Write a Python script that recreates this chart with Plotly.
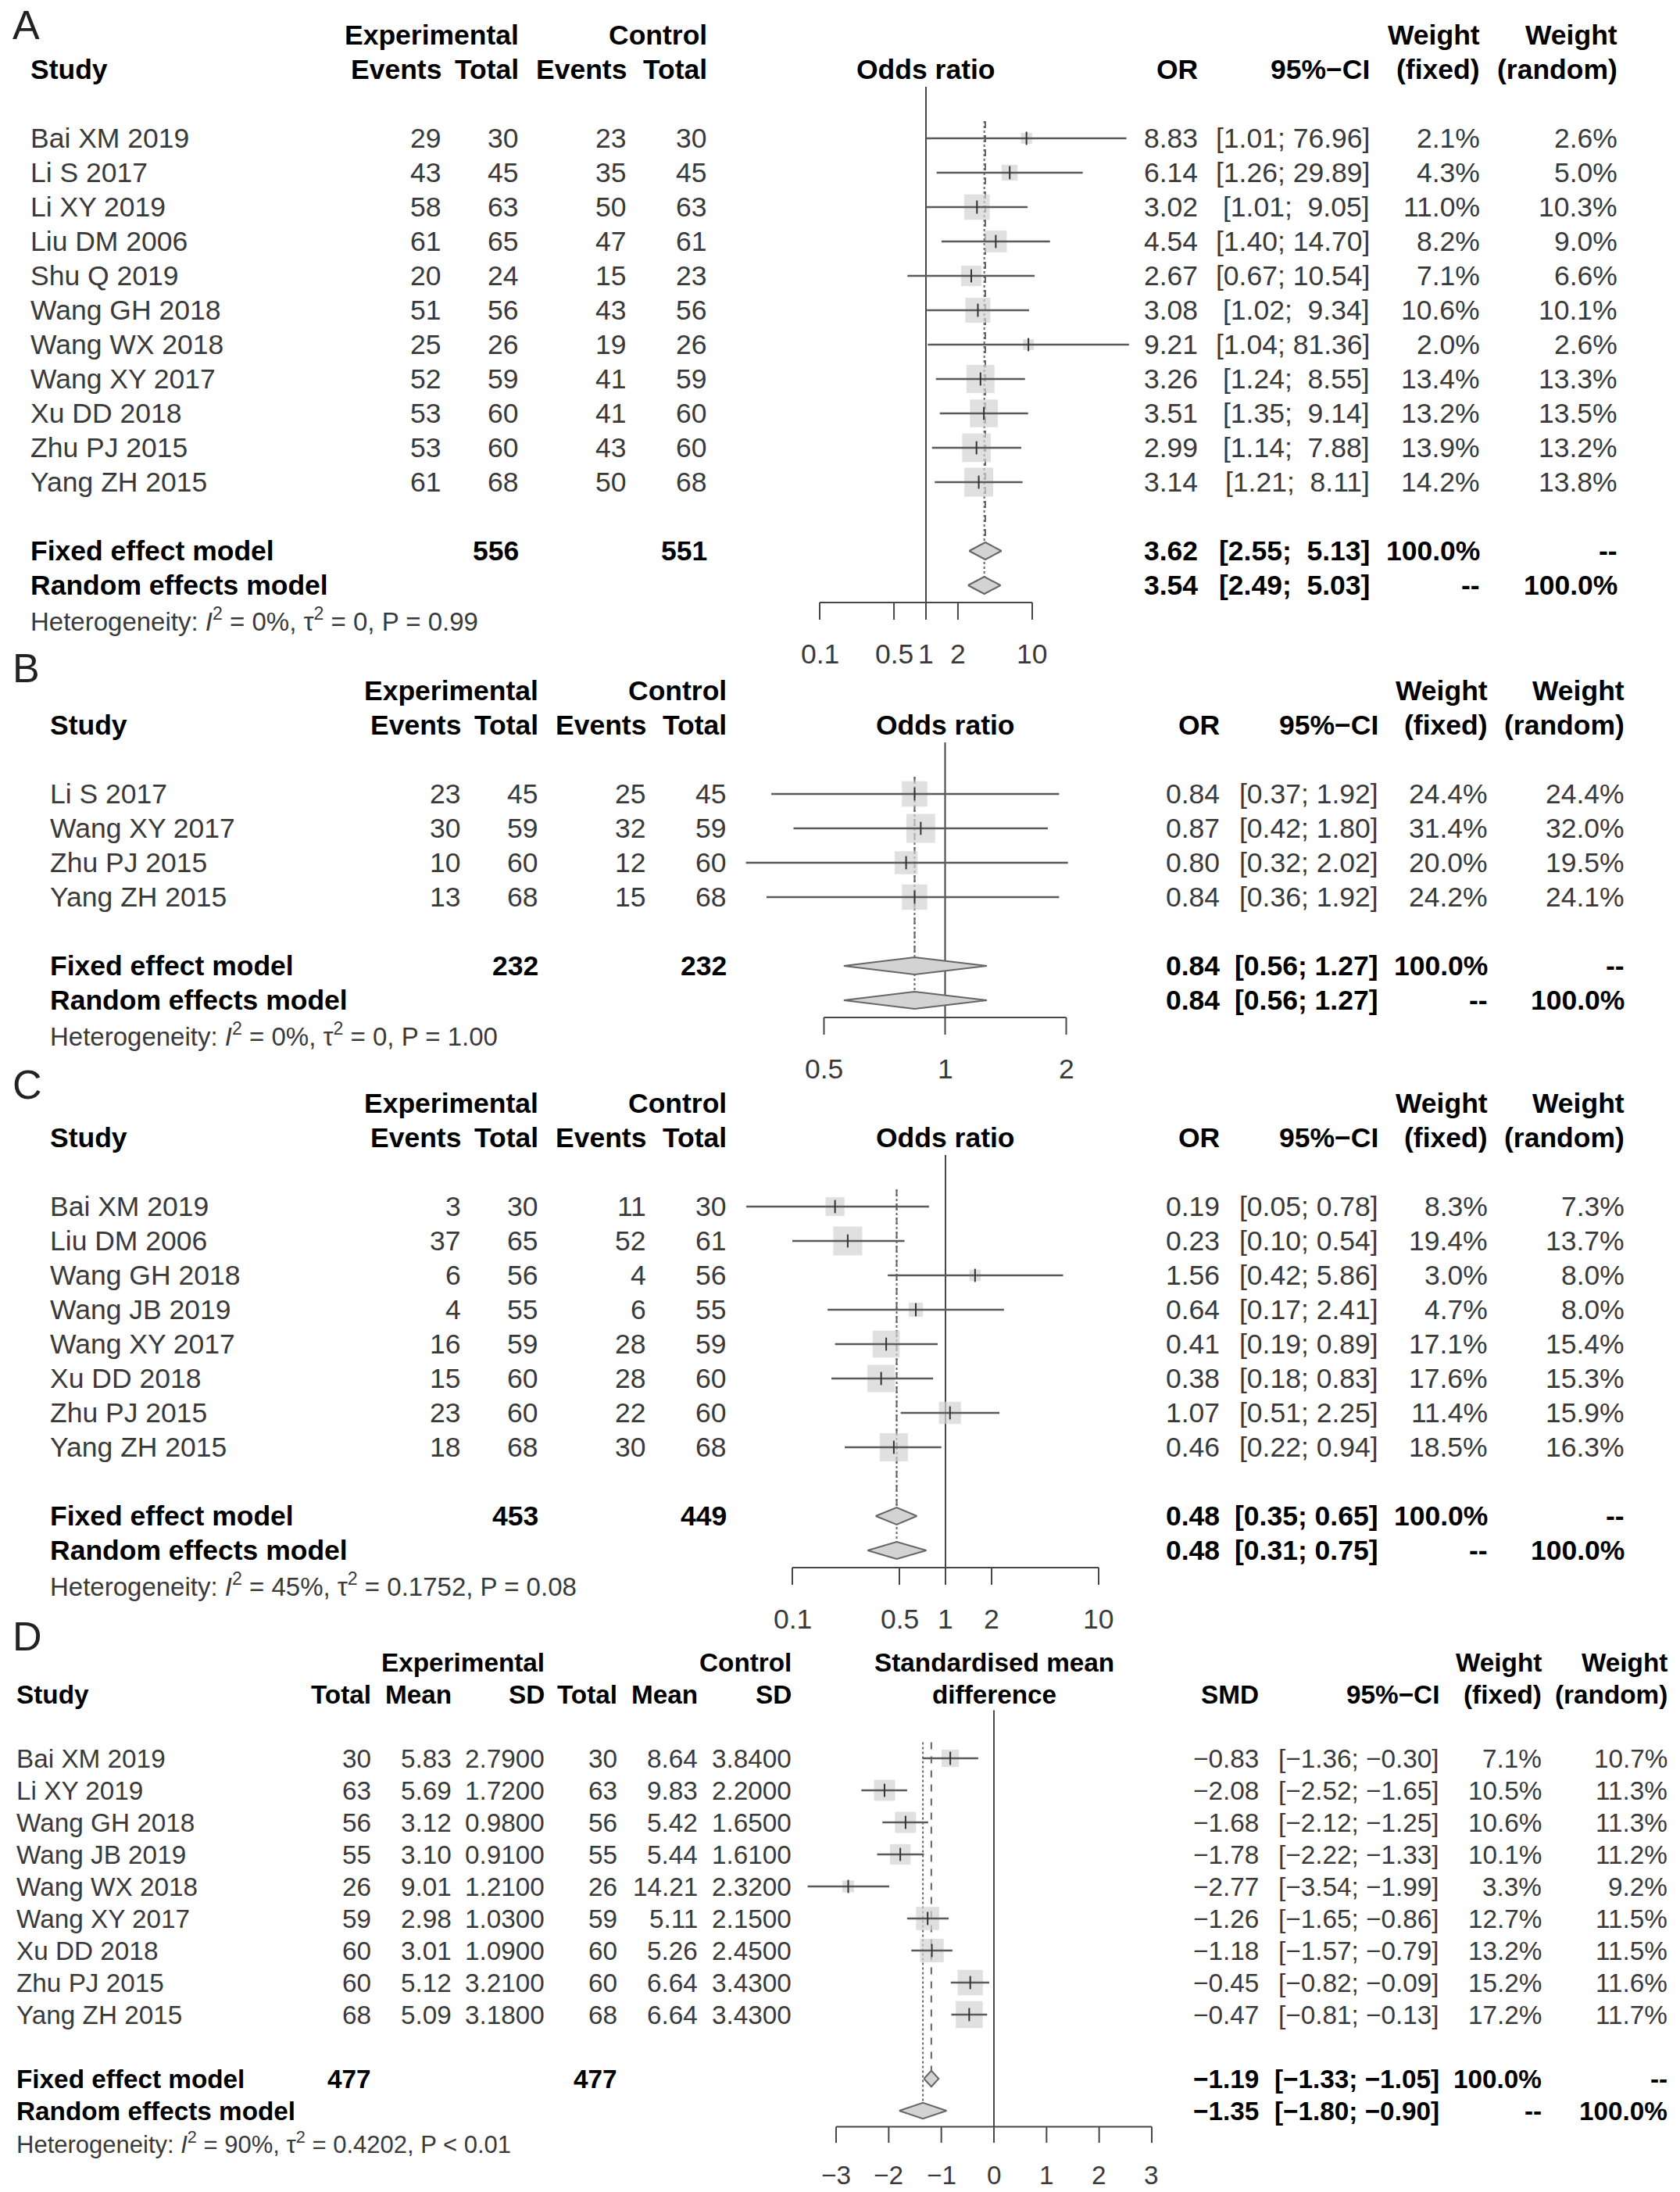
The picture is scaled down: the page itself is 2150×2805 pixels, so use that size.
import math
import plotly.graph_objects as go

W, H = 2150, 2805

# ---------------- Panel A data ----------------
A_study = ["Bai XM 2019", "Li S 2017", "Li XY 2019", "Liu DM 2006", "Shu Q 2019", "Wang GH 2018",
           "Wang WX 2018", "Wang XY 2017", "Xu DD 2018", "Zhu PJ 2015", "Yang ZH 2015"]
A_ev_e = [29, 43, 58, 61, 20, 51, 25, 52, 53, 53, 61]
A_n_e = [30, 45, 63, 65, 24, 56, 26, 59, 60, 60, 68]
A_ev_c = [23, 35, 50, 47, 15, 43, 19, 41, 41, 43, 50]
A_n_c = [30, 45, 63, 61, 23, 56, 26, 59, 60, 60, 68]
A_est = [8.83, 6.14, 3.02, 4.54, 2.67, 3.08, 9.21, 3.26, 3.51, 2.99, 3.14]
A_lo = [1.01, 1.26, 1.01, 1.40, 0.67, 1.02, 1.04, 1.24, 1.35, 1.14, 1.21]
A_hi = [76.96, 29.89, 9.05, 14.70, 10.54, 9.34, 81.36, 8.55, 9.14, 7.88, 8.11]
A_wf = [2.1, 4.3, 11.0, 8.2, 7.1, 10.6, 2.0, 13.4, 13.2, 13.9, 14.2]
A_wr = [2.6, 5.0, 10.3, 9.0, 6.6, 10.1, 2.6, 13.3, 13.5, 13.2, 13.8]
A_totals = [556, 551]
A_fixed = [3.62, 2.55, 5.13]
A_random = [3.54, 2.49, 5.03]
A_het = ["0%", "0", "P = 0.99"]
A_ticks = [0.1, 0.5, 1, 2, 10]
A_tick_labels = ["0.1", "0.5", "1", "2", "10"]

# ---------------- Panel B data ----------------
B_study = ["Li S 2017", "Wang XY 2017", "Zhu PJ 2015", "Yang ZH 2015"]
B_ev_e = [23, 30, 10, 13]
B_n_e = [45, 59, 60, 68]
B_ev_c = [25, 32, 12, 15]
B_n_c = [45, 59, 60, 68]
B_est = [0.84, 0.87, 0.80, 0.84]
B_lo = [0.37, 0.42, 0.32, 0.36]
B_hi = [1.92, 1.80, 2.02, 1.92]
B_wf = [24.4, 31.4, 20.0, 24.2]
B_wr = [24.4, 32.0, 19.5, 24.1]
B_totals = [232, 232]
B_fixed = [0.84, 0.56, 1.27]
B_random = [0.84, 0.56, 1.27]
B_het = ["0%", "0", "P = 1.00"]
B_ticks = [0.5, 1, 2]
B_tick_labels = ["0.5", "1", "2"]

# ---------------- Panel C data ----------------
C_study = ["Bai XM 2019", "Liu DM 2006", "Wang GH 2018", "Wang JB 2019", "Wang XY 2017",
           "Xu DD 2018", "Zhu PJ 2015", "Yang ZH 2015"]
C_ev_e = [3, 37, 6, 4, 16, 15, 23, 18]
C_n_e = [30, 65, 56, 55, 59, 60, 60, 68]
C_ev_c = [11, 52, 4, 6, 28, 28, 22, 30]
C_n_c = [30, 61, 56, 55, 59, 60, 60, 68]
C_est = [0.19, 0.23, 1.56, 0.64, 0.41, 0.38, 1.07, 0.46]
C_lo = [0.05, 0.10, 0.42, 0.17, 0.19, 0.18, 0.51, 0.22]
C_hi = [0.78, 0.54, 5.86, 2.41, 0.89, 0.83, 2.25, 0.94]
C_wf = [8.3, 19.4, 3.0, 4.7, 17.1, 17.6, 11.4, 18.5]
C_wr = [7.3, 13.7, 8.0, 8.0, 15.4, 15.3, 15.9, 16.3]
C_totals = [453, 449]
C_fixed = [0.48, 0.35, 0.65]
C_random = [0.48, 0.31, 0.75]
C_het = ["45%", "0.1752", "P = 0.08"]
C_ticks = [0.1, 0.5, 1, 2, 10]
C_tick_labels = ["0.1", "0.5", "1", "2", "10"]

# ---------------- Panel D data ----------------
D_study = ["Bai XM 2019", "Li XY 2019", "Wang GH 2018", "Wang JB 2019", "Wang WX 2018",
           "Wang XY 2017", "Xu DD 2018", "Zhu PJ 2015", "Yang ZH 2015"]
D_n_e = [30, 63, 56, 55, 26, 59, 60, 60, 68]
D_mean_e = [5.83, 5.69, 3.12, 3.10, 9.01, 2.98, 3.01, 5.12, 5.09]
D_sd_e = [2.79, 1.72, 0.98, 0.91, 1.21, 1.03, 1.09, 3.21, 3.18]
D_n_c = [30, 63, 56, 55, 26, 59, 60, 60, 68]
D_mean_c = [8.64, 9.83, 5.42, 5.44, 14.21, 5.11, 5.26, 6.64, 6.64]
D_sd_c = [3.84, 2.20, 1.65, 1.61, 2.32, 2.15, 2.45, 3.43, 3.43]
D_est = [-0.83, -2.08, -1.68, -1.78, -2.77, -1.26, -1.18, -0.45, -0.47]
D_lo = [-1.36, -2.52, -2.12, -2.22, -3.54, -1.65, -1.57, -0.82, -0.81]
D_hi = [-0.30, -1.65, -1.25, -1.33, -1.99, -0.86, -0.79, -0.09, -0.13]
D_wf = [7.1, 10.5, 10.6, 10.1, 3.3, 12.7, 13.2, 15.2, 17.2]
D_wr = [10.7, 11.3, 11.3, 11.2, 9.2, 11.5, 11.5, 11.6, 11.7]
D_totals = [477, 477]
D_fixed = [-1.19, -1.33, -1.05]
D_random = [-1.35, -1.80, -0.90]
D_het = ["90%", "0.4202", "P &lt; 0.01"]
D_ticks = [-3, -2, -1, 0, 1, 2, 3]
D_tick_labels = ["\u22123", "\u22122", "\u22121", "0", "1", "2", "3"]

# ---------------- styles / geometry ----------------
FONT = "Liberation Sans, Arial, Helvetica, sans-serif"
TXT = "#3a3a3a"
BOLD = "#000000"
CI_COL = "#5a5a5a"
REF_COL = "#474747"
SUM_COL = "#666666"
FILL = "#D3D3D3"
NB = "\u00a0"

GEO = {
    "A": dict(n=1, letter_y=32, r0=177, h=44, band=(0, 862), log=True, c=1185, b=136, fs=35.5, fsh=33,
              study_x=38, left_x=[566, 665, 803, 906], grp_x=[665, 906], tot_x=[665, 906],
              right_x=[1534, 1754, 1895, 2071]),
    "B": dict(n=2, letter_y=855, r0=1016, h=44, band=(862, 1390), log=True, c=1209.5, b=515, fs=35.5, fsh=33,
              study_x=63, left_x=[591, 690, 828, 931], grp_x=[690, 931], tot_x=[690, 931],
              right_x=[1562, 1765, 1905, 2080]),
    "C": dict(n=3, letter_y=1388, r0=1544, h=44, band=(1390, 2090), log=True, c=1210, b=196, fs=35.5, fsh=33,
              study_x=63, left_x=[591, 690, 828, 931], grp_x=[690, 931], tot_x=[690, 931],
              right_x=[1562, 1765, 1905, 2080]),
    "D": dict(n=4, letter_y=2094, r0=2250, h=41, band=(2090, 2805), log=False, c=1272, b=67.33, fs=33.3, fsh=31,
              study_x=20, left_x=[476, 579, 698, 791, 894, 1014], grp_x=[698, 1014], tot_x=[476, 791],
              right_x=[1612, 1843, 1974, 2135]),
}


def num(v, d=2):
    return f"{v:.{d}f}".replace("-", "\u2212")


PANELS = {
    "A": dict(study=A_study, cols=[("Events", A_ev_e), ("Total", A_n_e), ("Events", A_ev_c), ("Total", A_n_c)],
              est=A_est, lo=A_lo, hi=A_hi, wf=A_wf, wr=A_wr, totals=A_totals, fixed=A_fixed,
              random=A_random, het=A_het, ticks=A_ticks, tick_labels=A_tick_labels, measure="OR",
              title=["", "Odds ratio"], null=1),
    "B": dict(study=B_study, cols=[("Events", B_ev_e), ("Total", B_n_e), ("Events", B_ev_c), ("Total", B_n_c)],
              est=B_est, lo=B_lo, hi=B_hi, wf=B_wf, wr=B_wr, totals=B_totals, fixed=B_fixed,
              random=B_random, het=B_het, ticks=B_ticks, tick_labels=B_tick_labels, measure="OR",
              title=["", "Odds ratio"], null=1),
    "C": dict(study=C_study, cols=[("Events", C_ev_e), ("Total", C_n_e), ("Events", C_ev_c), ("Total", C_n_c)],
              est=C_est, lo=C_lo, hi=C_hi, wf=C_wf, wr=C_wr, totals=C_totals, fixed=C_fixed,
              random=C_random, het=C_het, ticks=C_ticks, tick_labels=C_tick_labels, measure="OR",
              title=["", "Odds ratio"], null=1),
    "D": dict(study=D_study,
              cols=[("Total", D_n_e), ("Mean", [num(v) for v in D_mean_e]), ("SD", [num(v, 4) for v in D_sd_e]),
                    ("Total", D_n_c), ("Mean", [num(v) for v in D_mean_c]), ("SD", [num(v, 4) for v in D_sd_c])],
              est=D_est, lo=D_lo, hi=D_hi, wf=D_wf, wr=D_wr, totals=D_totals, fixed=D_fixed,
              random=D_random, het=D_het, ticks=D_ticks, tick_labels=D_tick_labels, measure="SMD",
              title=["Standardised mean", "difference"], null=0),
}

fig = go.Figure()
annotations = []
layout_axes = {}


def add_text(x, y, text, yref, size, anchor="right", bold=False, xref="paper", color=None):
    if bold:
        text = "<b>" + text + "</b>"
    annotations.append(dict(
        x=x / W if xref == "paper" else x, xref=xref, y=y, yref=yref, text=text,
        showarrow=False, xanchor=anchor, yanchor="middle", borderpad=0,
        font=dict(family=FONT, size=size, color=color or (BOLD if bold else TXT))))


def build(key):
    g, d = GEO[key], PANELS[key]
    n = g["n"]
    xs = "x" if n == 1 else f"x{n}"
    ys = "y" if n == 1 else f"y{n}"
    xa = "xaxis" if n == 1 else f"xaxis{n}"
    ya = "yaxis" if n == 1 else f"yaxis{n}"
    top, bot = g["band"]
    layout_axes[xa] = dict(domain=[0, 1], range=[(0 - g["c"]) / g["b"], (W - g["c"]) / g["b"]],
                           type="log" if g["log"] else "linear", visible=False, anchor=ys, fixedrange=True)
    layout_axes[ya] = dict(domain=[1 - bot / H, 1 - top / H],
                           range=[(bot - g["r0"]) / g["h"], (top - g["r0"]) / g["h"]],
                           visible=False, anchor=xs, fixedrange=True)

    def ax_x(v):
        return math.log10(v) if g["log"] else v

    fs, fsh = g["fs"], g["fsh"]
    ns = len(d["study"])
    rows = list(range(ns))
    r_fix, r_ran, r_het = ns + 1, ns + 2, ns + 3
    r_axis = r_ran + 0.5

    # panel letter
    annotations.append(dict(x=14 / W, xref="paper", y=1 - g["letter_y"] / H, yref="paper", text=key,
                            showarrow=False, xanchor="left", yanchor="middle",
                            font=dict(family=FONT, size=52, color="#222222")))

    # ---------- headers ----------
    add_text(g["study_x"], -2, "Study", ys, fs, anchor="left", bold=True)
    add_text(g["grp_x"][0], -3, "Experimental", ys, fs, bold=True)
    add_text(g["grp_x"][1], -3, "Control", ys, fs, bold=True)
    for (hdr, _), x in zip(d["cols"], g["left_x"]):
        add_text(x, -2, hdr, ys, fs, bold=True)
    if d["title"][0]:
        add_text(ax_x(d["null"]), -3, d["title"][0], ys, fs, anchor="center", bold=True, xref=xs)
    add_text(ax_x(d["null"]), -2, d["title"][1], ys, fs, anchor="center", bold=True, xref=xs)
    rx = g["right_x"]
    add_text(rx[0], -2, d["measure"], ys, fs, bold=True)
    add_text(rx[1], -2, "95%\u2212CI", ys, fs, bold=True)
    add_text(rx[2], -3, "Weight", ys, fs, bold=True)
    add_text(rx[3], -3, "Weight", ys, fs, bold=True)
    add_text(rx[2], -2, "(fixed)", ys, fs, bold=True)
    add_text(rx[3], -2, "(random)", ys, fs, bold=True)

    # ---------- study rows text ----------
    all_lo = d["lo"] + [d["fixed"][1], d["random"][1]]
    all_hi = d["hi"] + [d["fixed"][2], d["random"][2]]
    wlo = max(len(num(v)) for v in all_lo)
    whi = max(len(num(v)) for v in all_hi)

    def ci_text(lo, hi):
        a, b = num(lo), num(hi)
        return "[" + NB * (wlo - len(a)) + a + ";" + NB + NB * (whi - len(b)) + b + "]"

    for i in rows:
        add_text(g["study_x"], i, d["study"][i], ys, fs, anchor="left")
        for (_, vals), x in zip(d["cols"], g["left_x"]):
            add_text(x, i, str(vals[i]), ys, fs)
        add_text(rx[0], i, num(d["est"][i]), ys, fs)
        add_text(rx[1], i, ci_text(d["lo"][i], d["hi"][i]), ys, fs)
        add_text(rx[2], i, f"{d['wf'][i]:.1f}%", ys, fs)
        add_text(rx[3], i, f"{d['wr'][i]:.1f}%", ys, fs)

    # ---------- summary rows ----------
    add_text(g["study_x"], r_fix, "Fixed effect model", ys, fs, anchor="left", bold=True)
    add_text(g["study_x"], r_ran, "Random effects model", ys, fs, anchor="left", bold=True)
    for x, v in zip(g["tot_x"], d["totals"]):
        add_text(x, r_fix, str(v), ys, fs, bold=True)
    for r, s, wf, wr in [(r_fix, d["fixed"], "100.0%", "--"), (r_ran, d["random"], "--", "100.0%")]:
        add_text(rx[0], r, num(s[0]), ys, fs, bold=True)
        add_text(rx[1], r, ci_text(s[1], s[2]), ys, fs, bold=True)
        add_text(rx[2], r, wf, ys, fs, bold=True)
        add_text(rx[3], r, wr, ys, fs, bold=True)
    i2, t2, p = d["het"]
    add_text(g["study_x"], r_het,
             f"Heterogeneity: <i>I</i><sup>2</sup> = {i2}, \u03c4<sup>2</sup> = {t2}, {p}",
             ys, fsh, anchor="left")

    common = dict(xaxis=xs, yaxis=ys, hoverinfo="skip", showlegend=False)

    # ---------- reference lines ----------
    fig.add_trace(go.Scatter(x=[d["null"], d["null"]], y=[-1.5, r_axis], mode="lines",
                             line=dict(color=REF_COL, width=2), **common))
    fig.add_trace(go.Scatter(x=[d["fixed"][0], d["fixed"][0]], y=[-0.5, r_fix - 0.25], mode="lines",
                             line=dict(color=SUM_COL, width=2, dash="dash"), **common))
    fig.add_trace(go.Scatter(x=[d["random"][0], d["random"][0]], y=[-0.5, r_ran - 0.25], mode="lines",
                             line=dict(color=SUM_COL, width=2, dash="dot"), **common))

    # ---------- squares ----------
    wmax = max(d["wf"])
    sizes = [0.84 * g["h"] * math.sqrt(w / wmax) for w in d["wf"]]
    fig.add_trace(go.Scatter(x=d["est"], y=rows, mode="markers",
                             marker=dict(symbol="square", size=sizes, color=FILL, line=dict(width=0)),
                             **common))
    # ---------- CI lines ----------
    cx, cy = [], []
    for i in rows:
        cx += [d["lo"][i], d["hi"][i], None]
        cy += [i, i, None]
    fig.add_trace(go.Scatter(x=cx, y=cy, mode="lines", line=dict(color=CI_COL, width=2.3), **common))
    fig.add_trace(go.Scatter(x=d["est"], y=rows, mode="markers",
                             marker=dict(symbol="line-ns", size=12, line=dict(width=2, color="#333333")),
                             **common))
    # ---------- diamonds ----------
    for r, s in [(r_fix, d["fixed"]), (r_ran, d["random"])]:
        fig.add_trace(go.Scatter(x=[s[1], s[0], s[2], s[0], s[1]], y=[r, r - 0.25, r, r + 0.25, r],
                                 mode="lines", fill="toself", fillcolor=FILL,
                                 line=dict(color=SUM_COL, width=2), **common))
    # ---------- axis ----------
    t = d["ticks"]
    axx = [t[0], t[-1], None]
    axy = [r_axis, r_axis, None]
    for v in t:
        axx += [v, v, None]
        axy += [r_axis, r_axis + 0.5, None]
    fig.add_trace(go.Scatter(x=axx, y=axy, mode="lines", line=dict(color=REF_COL, width=2), **common))
    for v, lab in zip(t, d["tick_labels"]):
        add_text(ax_x(v), r_ran + 2, lab, ys, fs, anchor="center", xref=xs)


for k in ["A", "B", "C", "D"]:
    build(k)

fig.update_layout(width=W, height=H, margin=dict(l=0, r=0, t=0, b=0),
                  paper_bgcolor="white", plot_bgcolor="rgba(0,0,0,0)",
                  showlegend=False, hovermode=False, annotations=annotations, **layout_axes)

fig.write_html("out.html", config={"displayModeBar": False, "staticPlot": True},
               post_script="document.body.style.margin='0';")
